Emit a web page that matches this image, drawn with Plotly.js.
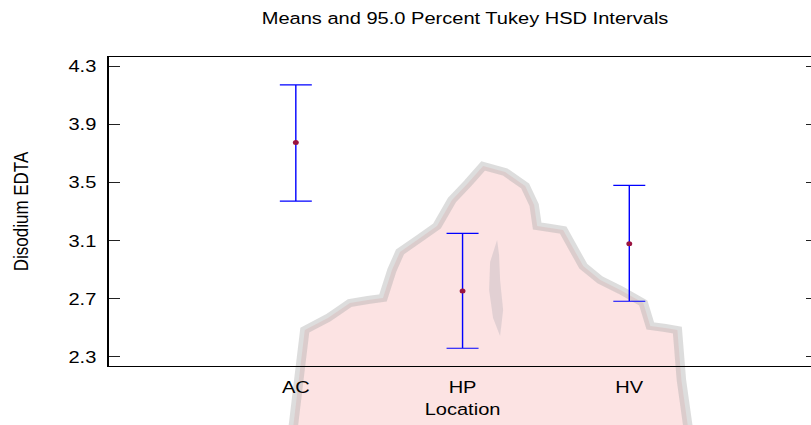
<!DOCTYPE html>
<html>
<head>
<meta charset="utf-8">
<script src="https://cdn.plot.ly/plotly-3.0.1.min.js"></script>
<style>
  html, body { margin: 0; padding: 0; background: #fff; overflow: hidden; width: 811px; height: 425px; }
  #chart { transform-origin: 0 0; }
</style>
</head>
<body>
<div id="chart"></div>
<script>
// ---- Data ----
const categories = ['AC', 'HP', 'HV'];
const means = [3.774, 2.754, 3.079];
const lowerLimits = [3.372, 2.360, 2.683];
const upperLimits = [4.171, 3.150, 3.480];
const yTickValues = [2.3, 2.7, 3.1, 3.5, 3.9, 4.3];
const yTickLabels = ['2.3', '2.7', '3.1', '3.5', '3.9', '4.3'];

// ---- Geometry: the reference image is horizontally stretched, so draw narrower and stretch ----
const S = 1.18;                 // horizontal stretch factor
const WF = 816, H = 425;        // final (stretched) pixel size; right frame just off-canvas
const LF = 109, BF = 59, TF = 57;
const W = WF / S;
const M = { l: LF / S, r: 0, t: TF, b: BF };
const px = x => (x - LF) / (WF - LF);
const py = y => (H - BF - y) / (H - BF - TF);

const chartDiv = document.getElementById('chart');
chartDiv.style.width = W + 'px';
chartDiv.style.height = H + 'px';
chartDiv.style.transform = 'scaleX(' + S + ')';

const plus = means.map((m, i) => upperLimits[i] - m);
const minus = means.map((m, i) => m - lowerLimits[i]);

const trace = {
  type: 'scatter',
  mode: 'markers',
  x: categories,
  y: means,
  marker: { color: '#9a1440', size: 5, line: { width: 0 } },
  error_y: {
    type: 'data', symmetric: false,
    array: plus, arrayminus: minus,
    color: '#0000ff', thickness: 1.2, width: 16 / S
  },
  hoverinfo: 'x+y',
  showlegend: false
};

// decorative background watermark (flame) in final-pixel space
const flamePts = [
  [293,430],[299,380],[305,330],[328,318],[350,303],[368,300],[383,298],[392,270],
  [400,252],[420,238],[437,226],[452,200],[468,183],[483,166],[505,172],[525,186],
  [534,205],[537,226],[550,228],[563,230],[574,250],[583,266],[600,280],[620,290],
  [643,303],[650,326],[665,328],[677,330],[681,380],[688,430]
];
const flamePath = 'M ' + flamePts.map(p => px(p[0]).toFixed(4) + ',' + py(p[1]).toFixed(4)).join(' L ') + ' Z';
const innerPts = [[497,240],[490,262],[489,290],[493,318],[500,336],[503,310],[500,280],[499,255]];
const innerPath = 'M ' + innerPts.map(p => px(p[0]).toFixed(4) + ',' + py(p[1]).toFixed(4)).join(' L ') + ' Z';

const layout = {
  width: W, height: H,
  margin: M,
  paper_bgcolor: '#ffffff',
  plot_bgcolor: '#ffffff',
  font: { family: 'Liberation Sans, Arial, sans-serif', size: 17, color: '#000' },
  title: {
    text: 'Means and 95.0 Percent Tukey HSD Intervals',
    font: { size: 17, color: '#000' },
    xref: 'paper', x: px(465), xanchor: 'center',
    yref: 'container', y: 1 - 18.5 / H, yanchor: 'middle'
  },
  xaxis: {
    type: 'category',
    categoryorder: 'array', categoryarray: categories,
    range: [-(296 - LF) / 166.5, 2 + (WF - 629) / 166.5],
    showline: true, linecolor: '#000', linewidth: 1, mirror: true,
    ticks: '', showgrid: false, zeroline: false,
    tickfont: { size: 17 },
    ticklabelstandoff: 6,
    title: { text: 'Location', font: { size: 17 }, standoff: 6 }
  },
  yaxis: {
    range: [2.238, 4.362],
    tickmode: 'array', tickvals: yTickValues, ticktext: yTickLabels,
    ticks: 'inside', ticklen: 11 / S, tickcolor: '#222', tickwidth: 1,
    showline: true, linecolor: '#000', linewidth: 1, mirror: 'ticks',
    showgrid: false, zeroline: false,
    tickfont: { size: 17 },
    ticklabelstandoff: 6,
    title: { text: 'Disodium EDTA', font: { size: 17 }, standoff: 29 }
  },
  shapes: [
    { type: 'path', xref: 'paper', yref: 'paper', layer: 'below', path: flamePath,
      fillcolor: 'rgba(250,200,200,0.5)', line: { color: 'rgba(170,170,170,0.4)', width: 8 } },
    { type: 'path', xref: 'paper', yref: 'paper', layer: 'below', path: innerPath,
      fillcolor: 'rgba(165,165,175,0.3)', line: { width: 0 } }
  ],
  showlegend: false
};

Plotly.newPlot('chart', [trace], layout, { displayModeBar: false, staticPlot: true });
</script>
</body>
</html>
